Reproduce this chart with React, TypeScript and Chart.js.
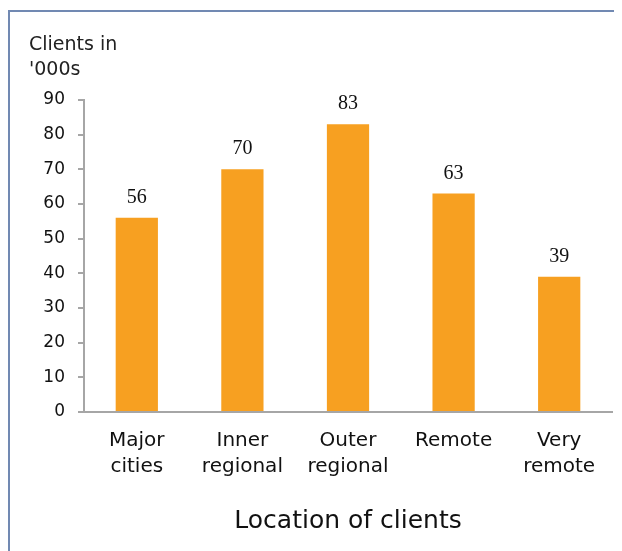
import React, { useEffect, useRef } from "react";
import { Chart, registerables } from "chart.js";
Chart.register(...registerables);

const categories: string[][] = [
  ["Major", "cities"],
  ["Inner", "regional"],
  ["Outer", "regional"],
  ["Remote"],
  ["Very", "remote"],
];
const clients: number[] = [56, 70, 83, 63, 39];
const yTickValues: number[] = [0, 10, 20, 30, 40, 50, 60, 70, 80, 90];
const yAxisLabel: string[] = ["Clients in", "'000s"];
const xAxisLabel = "Location of clients";

const SANS = "'DejaVu Sans', sans-serif";
const SERIF = "'Liberation Serif', 'Times New Roman', serif";
const AXIS_GREY = "#A6A6A6";
const BAR_ORANGE = "#F7A021";
const FRAME_BLUE = "#7189B2";

export default function App() {
  const ref = useRef<HTMLCanvasElement>(null);

  useEffect(() => {
    document.documentElement.style.overflow = "hidden";
    document.body.style.overflow = "hidden";
    if (!ref.current) return;

    const framePlugin = {
      id: "frame",
      beforeDraw(chart: any) {
        const ctx = chart.ctx;
        ctx.save();
        ctx.strokeStyle = FRAME_BLUE;
        ctx.lineWidth = 2;
        ctx.beginPath();
        ctx.moveTo(1, chart.height);
        ctx.lineTo(1, 3);
        ctx.lineTo(chart.width, 3);
        ctx.stroke();
        ctx.restore();
      },
    };

    const textPlugin = {
      id: "texts",
      afterDatasetsDraw(chart: any) {
        const ctx = chart.ctx;
        ctx.save();
        ctx.fillStyle = "#111";
        ctx.font = `20px ${SERIF}`;
        ctx.textAlign = "center";
        ctx.textBaseline = "alphabetic";
        const meta = chart.getDatasetMeta(0);
        meta.data.forEach((bar: any, i: number) => {
          ctx.fillText(String(clients[i]), bar.x, bar.y - 15);
        });
        ctx.font = `19px ${SANS}`;
        ctx.textAlign = "left";
        ctx.fillStyle = "#222";
        yAxisLabel.forEach((line, i) => {
          ctx.fillText(line, 21, 42 + i * 25);
        });
        ctx.restore();
      },
    };

    const chart = new Chart(ref.current, {
      type: "bar",
      data: {
        labels: categories,
        datasets: [
          {
            data: clients,
            backgroundColor: BAR_ORANGE,
            borderWidth: 0,
            barPercentage: 0.4,
            categoryPercentage: 1.0,
          },
        ],
      },
      options: {
        animation: false,
        responsive: true,
        maintainAspectRatio: false,
        layout: { padding: { left: 0, right: 10, top: 92, bottom: 0 } },
        plugins: {
          legend: { display: false },
          tooltip: { enabled: false },
          title: { display: false },
        },
        scales: {
          x: {
            grid: { display: false },
            border: { display: true, color: AXIS_GREY, width: 2 },
            ticks: {
              color: "#111",
              font: { family: SANS, size: 20, lineHeight: 1.3 },
              padding: 8,
              maxRotation: 0,
              autoSkip: false,
            },
            title: {
              display: true,
              text: xAxisLabel,
              color: "#111",
              font: { family: SANS, size: 25 },
              padding: { top: 15, bottom: 15 },
            },
            afterFit(scale: any) {
              scale.height = 139;
            },
          },
          y: {
            min: 0,
            max: 90,
            afterBuildTicks(scale: any) {
              scale.ticks = yTickValues.map((v) => ({ value: v }));
            },
            grid: {
              drawOnChartArea: false,
              drawTicks: true,
              tickLength: 6,
              color: AXIS_GREY,
              lineWidth: 2,
            },
            border: { display: true, color: AXIS_GREY, width: 2 },
            ticks: {
              color: "#111",
              font: { family: SANS, size: 17 },
              padding: 13,
            },
            afterFit(scale: any) {
              scale.width = 76;
            },
          },
        },
      },
      plugins: [framePlugin, textPlugin],
    });

    return () => chart.destroy();
  }, []);

  return (
    <div style={{ position: "relative", width: 614, height: 543 }}>
      <canvas ref={ref} />
    </div>
  );
}
